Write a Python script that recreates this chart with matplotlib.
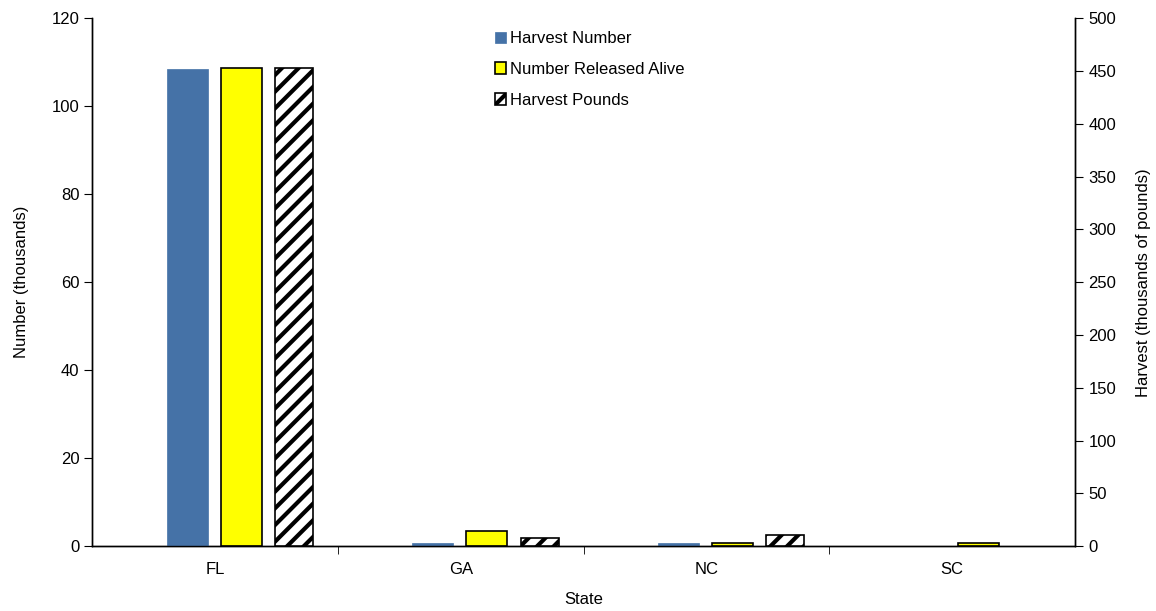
import numpy as np
import matplotlib.pyplot as plt
from matplotlib.ticker import FixedLocator, NullFormatter

plt.rcParams['font.family'] = ['Liberation Sans', 'DejaVu Sans']
plt.rcParams['hatch.linewidth'] = 3.0

# data
states = ['FL', 'GA', 'NC', 'SC']
harvest_number = [108.4, 0.7, 0.7, 0.0]      # thousands (left axis)
released_alive = [108.6, 3.4, 0.8, 0.8]      # thousands (left axis)
harvest_pounds = [452.5, 8.0, 10.9, 0.0]     # thousands of pounds (right axis)

x = np.arange(len(states))
w = 0.167

fig, ax = plt.subplots(figsize=(11.56, 6.11), dpi=100)
ax2 = ax.twinx()

b1 = ax.bar(x - 0.115, harvest_number, w, color='#4572A7', edgecolor='#4572A7', linewidth=0.5,
            label='Harvest Number', zorder=3)
b2 = ax.bar(x + 0.105, released_alive, w, color='#FFFF00', edgecolor='black', linewidth=1.2,
            label='Number Released Alive', zorder=3)
b3 = ax2.bar(x + 0.32, harvest_pounds, 0.155, color='white', edgecolor='black',
             linewidth=[1.2 if v > 0 else 0 for v in harvest_pounds],
             hatch='//', label='Harvest Pounds', zorder=3)

ax.set_xlim(-0.5, len(states) - 0.5)
ax.set_ylim(0, 120)
ax2.set_ylim(0, 500)
ax.set_yticks(np.arange(0, 121, 20))
ax2.set_yticks(np.arange(0, 501, 50))

ax.set_xticks(x)
ax.set_xticklabels(states)
ax.xaxis.set_minor_locator(FixedLocator(np.arange(0.5, len(states) - 0.5, 1)))
ax.xaxis.set_minor_formatter(NullFormatter())
ax.tick_params(axis='x', which='major', length=0, labelsize=12, pad=11)
ax.tick_params(axis='x', which='minor', length=6, direction='out')
ax.tick_params(axis='y', labelsize=12, length=6, direction='out')
ax2.tick_params(axis='y', labelsize=12, length=6, direction='out')

for a in (ax, ax2):
    a.spines['top'].set_visible(False)
    for s in ('left', 'right', 'bottom'):
        a.spines[s].set_linewidth(1.0)

ax.set_xlabel('State', fontsize=12, labelpad=11)
ax.set_ylabel('Number (thousands)', fontsize=12, labelpad=16)
ax2.set_ylabel('Harvest (thousands of pounds)', fontsize=12, labelpad=14)

leg = ax.legend(handles=[b1, b2, b3], loc='upper left', bbox_to_anchor=(0.394, 1.004),
                frameon=False, fontsize=12, handlelength=0.7, handleheight=0.7,
                handletextpad=0.2, labelspacing=0.95)

plt.subplots_adjust(left=0.08, right=0.93, top=0.97, bottom=0.106)
plt.savefig('out.png', dpi=100)
